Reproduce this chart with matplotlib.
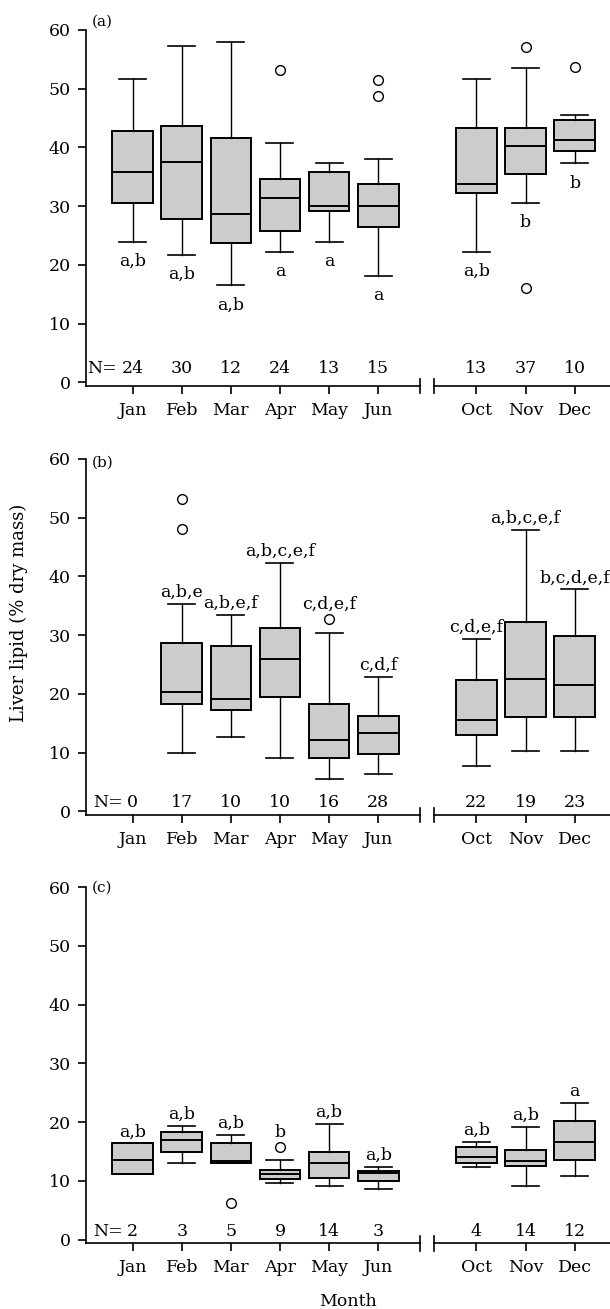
import matplotlib.pyplot as plt

plt.rcParams['font.family'] = ['DejaVu Serif']
plt.rcParams['font.size'] = 12.5

months = ["Jan", "Feb", "Mar", "Apr", "May", "Jun", "Oct", "Nov", "Dec"]
positions = [1, 2, 3, 4, 5, 6, 8, 9, 10]

# (a)
n_a = [24, 30, 12, 24, 13, 15, 13, 37, 10]
lo_a = [23.9, 21.7, 16.5, 22.2, 23.9, 18.1, 22.2, 30.6, 37.3]
q1_a = [30.6, 27.8, 23.7, 25.8, 29.2, 26.5, 32.3, 35.55, 39.4]
med_a = [35.8, 37.5, 28.6, 31.4, 30.0, 30.0, 33.85, 40.25, 41.3]
q3_a = [42.75, 43.6, 41.6, 34.7, 35.8, 33.8, 43.3, 43.3, 44.6]
hi_a = [51.7, 57.2, 58.0, 40.8, 37.3, 38.1, 51.7, 53.6, 45.6]
out_a = [[], [], [], [53.2], [], [51.5, 48.75], [], [57.1, 16.0], [53.7]]
let_a = ["a,b", "a,b", "a,b", "a", "a", "a", "a,b", "b", "b"]

# (b)  no fish in January
n_b = [0, 17, 10, 10, 16, 28, 22, 19, 23]
lo_b = [None, 10.0, 12.7, 9.15, 5.5, 6.4, 7.75, 10.3, 10.3]
q1_b = [None, 18.35, 17.2, 19.5, 9.15, 9.7, 13.05, 16.1, 16.1]
med_b = [None, 20.3, 19.15, 26.0, 12.15, 13.3, 15.5, 22.6, 21.5]
q3_b = [None, 28.6, 28.1, 31.2, 18.25, 16.3, 22.3, 32.3, 29.8]
hi_b = [None, 35.3, 33.4, 42.3, 30.4, 22.9, 29.4, 47.9, 37.8]
out_b = [[], [53.2, 48.0], [], [], [32.7], [], [], [], []]
let_b = ["", "a,b,e", "a,b,e,f", "a,b,c,e,f", "c,d,e,f", "c,d,f",
         "c,d,e,f", "a,b,c,e,f", "b,c,d,e,f"]

# (c)
n_c = [2, 3, 5, 9, 14, 3, 4, 14, 12]
lo_c = [11.1, 13.1, 13.1, 9.7, 9.15, 8.65, 12.4, 9.15, 10.85]
q1_c = [11.1, 15.0, 13.1, 10.3, 10.5, 9.95, 13.1, 12.5, 13.6]
med_c = [13.6, 16.9, 13.4, 11.1, 13.1, 11.4, 14.1, 13.3, 16.7]
q3_c = [16.4, 18.4, 16.4, 11.9, 15.0, 11.75, 15.8, 15.3, 20.25]
hi_c = [16.4, 19.4, 17.8, 13.6, 19.7, 12.4, 16.7, 19.2, 23.3]
out_c = [[], [], [6.2], [15.7], [], [], [], [], []]
let_c = ["a,b", "a,b", "a,b", "b", "a,b", "a,b", "a,b", "a,b", "a"]

panels = [
    # tag, data, letters below?, tag y (axes), count baseline, bottom of axes
    ("(a)", (n_a, lo_a, q1_a, med_a, q3_a, hi_a, out_a, let_a), True, 1.022, 1.5, 0.70512),
    ("(b)", (n_b, lo_b, q1_b, med_b, q3_b, hi_b, out_b, let_b), False, 0.989, 0.75, 0.37739),
    ("(c)", (n_c, lo_c, q1_c, med_c, q3_c, hi_c, out_c, let_c), False, 1.0, 0.62, 0.05019),
]

fig = plt.figure(figsize=(6.1, 13.09), dpi=100)

for tag, (n, lo, q1, med, q3, hi, out, let), below, tag_y, count_y, bot in panels:
    ax = fig.add_axes([0.141, bot, 0.859, 0.272])

    stats, pos = [], []
    for i in range(len(months)):
        if med[i] is None:
            continue
        stats.append(dict(whislo=lo[i], q1=q1[i], med=med[i], q3=q3[i],
                          whishi=hi[i], fliers=out[i]))
        pos.append(positions[i])
    ax.bxp(stats, positions=pos, widths=0.83, capwidths=0.55, patch_artist=True,
           boxprops=dict(facecolor="#cccccc", edgecolor="black", linewidth=1.4),
           whiskerprops=dict(color="black", linewidth=1.0),
           capprops=dict(color="black", linewidth=1.2),
           medianprops=dict(color="black", linewidth=1.4),
           flierprops=dict(marker="o", markerfacecolor="white", markeredgecolor="black",
                           markersize=7, markeredgewidth=1.0))

    # significance letters
    for i in range(len(months)):
        if med[i] is None:
            continue
        if below:
            ax.annotate(let[i], (positions[i], lo[i]), xytext=(0, -17.5),
                        textcoords="offset points", ha="center", va="baseline")
        else:
            near = [o for o in out[i] if hi[i] < o < hi[i] + 3.5]
            if near:
                anchor, off = max(near), 7.5
            else:
                anchor, off = hi[i], 5
            ax.annotate(let[i], (positions[i], anchor), xytext=(0, off),
                        textcoords="offset points", ha="center", va="baseline")

    # sample sizes
    for i in range(len(months)):
        ax.text(positions[i], count_y, str(n[i]), ha="center", va="baseline")
    nd = len(str(n[0]))
    ax.annotate("N=", (positions[0], count_y), xytext=(-(4.0 * nd + 3), 0),
                textcoords="offset points", ha="right", va="baseline")

    ax.text(0.011, tag_y, tag, transform=ax.transAxes, fontsize=11,
            ha="left", va="center")

    ax.set_xlim(0.05, 10.72)
    ax.set_ylim(-0.63, 60)
    ax.set_yticks(range(0, 61, 10))
    ax.set_xticks(positions)
    ax.set_xticklabels(months)
    ax.tick_params(axis="y", direction="out", length=6, width=1.2, pad=5)
    ax.tick_params(axis="x", direction="out", length=5.5, width=1.2, pad=6)
    for s in ["top", "right", "bottom"]:
        ax.spines[s].set_visible(False)
    ax.spines["left"].set_linewidth(1.2)

    # broken x axis
    tr = ax.get_xaxis_transform()
    ax.plot([0.05, 6.86], [0, 0], color="black", lw=1.2, transform=tr, clip_on=False)
    ax.plot([7.13, 10.72], [0, 0], color="black", lw=1.2, transform=tr, clip_on=False)
    for xb in (6.86, 7.13):
        ax.plot([xb, xb], [-0.021, 0.021], color="black", lw=1.2, transform=tr,
                clip_on=False)

    if tag == "(b)":
        ax.set_ylabel("Liver lipid (% dry mass)", fontsize=13)
        ax.yaxis.set_label_coords(-0.111, 0.569)
    if tag == "(c)":
        ax.set_xlabel("Month", labelpad=12)

fig.savefig("out.png", dpi=100)
